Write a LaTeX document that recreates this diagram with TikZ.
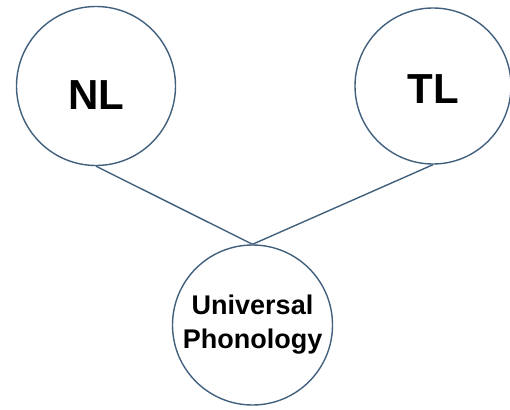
\documentclass[tikz,border=0pt]{standalone}
\usepackage{fontspec}
\setmainfont{Liberation Sans}
\usepackage{xcolor}
\usetikzlibrary{positioning}
\definecolor{edgeblue}{HTML}{41607E}
\tikzset{
	% language circle
	bubble/.style={
		circle,
		draw=edgeblue,
		line width=1.4pt,
		inner sep=2pt,
		font=\bfseries\fontsize{42}{50}\selectfont
	}, %
	% small text
	smalltext/.style={
		font=\bfseries\fontsize{27}{34}\selectfont,
		align=center
	}, %
	% connector
	link/.style={
		draw=edgeblue,
		line width=1.4pt
	} %
}

\begin{document}
\begin{tikzpicture}[x=1pt,y=-1pt]
	\useasboundingbox (0,0) rectangle (510,409);
	
	% NL, TL
	\node [bubble, minimum size=159pt, text height=48pt, text depth=0pt] (nl) at (96,86) {NL};
	\node [bubble, minimum size=156pt, text height=34pt, text depth=0pt] (tl) at (433,86) {TL};
	
	% UP
	\node [bubble, smalltext, minimum size=160pt] (up) at (252.5,325) {Universal\\Phonology};
	
	% lines
	\draw [link] (nl.south)--(up.north);
	\draw [link] (tl.south)--(up.north);
\end{tikzpicture}
\end{document}
